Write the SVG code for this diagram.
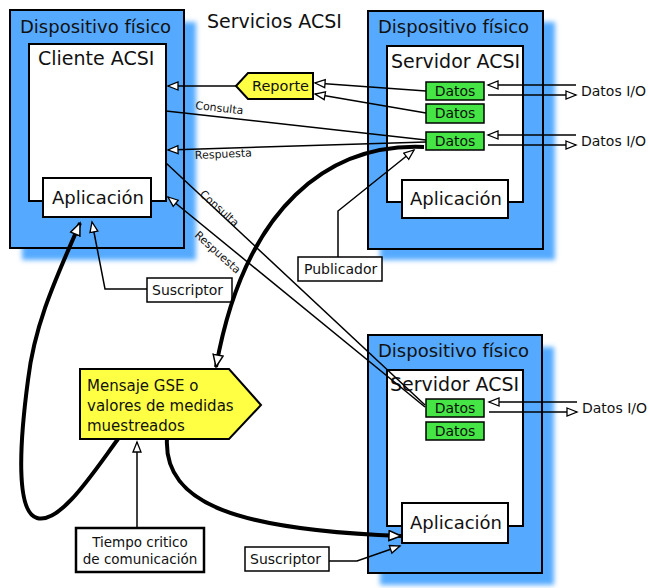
<svg xmlns="http://www.w3.org/2000/svg" width="650" height="588" viewBox="0 0 650 588">
  <style>
    text { font-family: "DejaVu Sans", Verdana, sans-serif; fill: #111; }
    .dev { fill: #55AAFF; stroke: #000; stroke-width: 2; }
    .shadow { fill: #55AAFF; filter: url(#blur); }
    .inner { fill: #fff; stroke: #000; stroke-width: 2; }
    .app { fill: #fff; stroke: #000; stroke-width: 2; }
    .datos { fill: #44E544; stroke: #000; stroke-width: 1.5; }
    .label { fill: #fff; stroke: #000; stroke-width: 1.5; }
    .t18 { font-size: 18px; }
    .t19 { font-size: 19px; }
    .t14 { font-size: 14px; }
    .t15 { font-size: 15px; }
    .t13 { font-size: 13.5px; }
    .t11 { font-size: 11px; }
    .conn { fill: none; stroke: #000; stroke-width: 1.5; }
    .thick { fill: none; stroke: #000; stroke-width: 4; }
  </style>
  <defs>
    <filter id="blur" x="-10%" y="-10%" width="120%" height="120%">
      <feGaussianBlur stdDeviation="2.5"/>
    </filter>
    <marker id="open" markerUnits="userSpaceOnUse" markerWidth="14" markerHeight="12" refX="11" refY="5" orient="auto">
      <path d="M1,1 L11,5 L1,9 z" fill="#fff" stroke="#000" stroke-width="1.3"/>
    </marker>
    <marker id="openBig" markerUnits="userSpaceOnUse" markerWidth="16" markerHeight="14" refX="13" refY="6" orient="auto">
      <path d="M1,1 L13,6 L1,11 z" fill="#fff" stroke="#000" stroke-width="1.5"/>
    </marker>
  </defs>

  <!-- Left physical device: ACSI client -->
  <g id="dev-client">
    <rect class="shadow" x="22" y="22" width="174" height="238"/>
    <rect class="dev" x="10" y="10" width="174" height="238"/>
    <text class="t18" x="20" y="33">Dispositivo físico</text>
    <rect class="inner" x="29" y="44" width="137" height="157"/>
    <text class="t19" x="38" y="65">Cliente ACSI</text>
  </g>
  <g id="app-client">
    <rect class="app" x="43" y="178" width="108" height="39"/>
    <text class="t18" x="52" y="204">Aplicación</text>
  </g>

  <text id="title" class="t19" x="207" y="28">Servicios ACSI</text>

  <!-- Top right physical device: ACSI server -->
  <g id="dev-server1">
    <rect class="shadow" x="380" y="22" width="175" height="238"/>
    <rect class="dev" x="368" y="11" width="175" height="238"/>
    <text class="t18" x="378" y="33">Dispositivo físico</text>
    <rect class="inner" x="387" y="46" width="136" height="156"/>
    <text class="t19" x="391" y="68">Servidor ACSI</text>
  </g>
  <g id="datos-s1-a">
    <rect class="datos" x="426" y="82" width="58" height="18"/>
    <text class="t14" x="455" y="96" text-anchor="middle">Datos</text>
  </g>
  <g id="datos-s1-b">
    <rect class="datos" x="426" y="104" width="58" height="19"/>
    <text class="t14" x="455" y="118" text-anchor="middle">Datos</text>
  </g>
  <g id="datos-s1-c">
    <rect class="datos" x="426" y="132" width="58" height="18"/>
    <text class="t14" x="455" y="146" text-anchor="middle">Datos</text>
  </g>
  <g id="app-server1">
    <rect class="app" x="402" y="180" width="106" height="38"/>
    <text class="t18" x="410" y="205">Aplicación</text>
  </g>

  <!-- Bottom right physical device: ACSI server -->
  <g id="dev-server2">
    <rect class="shadow" x="380" y="347" width="174" height="238"/>
    <rect class="dev" x="368" y="335" width="174" height="238"/>
    <text class="t18" x="378" y="357">Dispositivo físico</text>
    <rect class="inner" x="387" y="370" width="136" height="156"/>
    <text class="t19" x="390" y="391">Servidor ACSI</text>
  </g>
  <g id="datos-s2-a">
    <rect class="datos" x="426" y="399" width="58" height="18"/>
    <text class="t14" x="455" y="413" text-anchor="middle">Datos</text>
  </g>
  <g id="datos-s2-b">
    <rect class="datos" x="426" y="422" width="58" height="18"/>
    <text class="t14" x="455" y="436" text-anchor="middle">Datos</text>
  </g>
  <g id="app-server2">
    <rect class="app" x="402" y="503" width="106" height="40"/>
    <text class="t18" x="410" y="529">Aplicación</text>
  </g>

  <!-- Report tag -->
  <g id="reporte">
    <polygon points="236,86 248,73 313,73 313,99 248,99" fill="#FFFF44" stroke="#000" stroke-width="2"/>
    <text class="t14" x="252" y="91" style="font-size:14.5px">Reporte</text>
  </g>

  <!-- GSE / sampled values message -->
  <g id="gse">
    <polygon points="80,369 229,369 261,405 229,439 80,439" fill="#FFFF44" stroke="#000" stroke-width="2"/>
    <text class="t15" x="87" y="391">Mensaje GSE o</text>
    <text class="t15" x="87" y="411">valores de medidas</text>
    <text class="t15" x="87" y="431">muestreados</text>
  </g>

  <g id="publicador">
    <rect class="label" x="298" y="257" width="84" height="24"/>
    <text class="t14" x="304" y="274">Publicador</text>
  </g>
  <g id="suscriptor-1">
    <rect class="label" x="147" y="278" width="85" height="24"/>
    <text class="t14" x="152" y="295">Suscriptor</text>
  </g>
  <g id="suscriptor-2">
    <rect class="label" x="245" y="547" width="84" height="24"/>
    <text class="t14" x="250" y="564">Suscriptor</text>
  </g>
  <g id="tiempo">
    <rect x="76" y="528" width="128" height="44" fill="#fff" stroke="#000" stroke-width="2.5"/>
    <text class="t13" x="140" y="547" text-anchor="middle">Tiempo critico</text>
    <text class="t13" x="140" y="564" text-anchor="middle">de comunicación</text>
  </g>

  <!-- I/O labels -->
  <g id="io-labels">
    <text class="t14" x="581" y="96">Datos I/O</text>
    <text class="t14" x="581" y="146">Datos I/O</text>
    <text class="t14" x="582" y="413">Datos I/O</text>
  </g>

  <!-- Connectors -->
  <g id="connectors">
    <line class="conn" x1="236" y1="86" x2="168" y2="86" marker-end="url(#open)"/>
    <line class="conn" x1="426" y1="91" x2="315" y2="83" marker-end="url(#open)"/>
    <line class="conn" x1="426" y1="113" x2="315" y2="94" marker-end="url(#open)"/>
    <line class="conn" x1="166" y1="111" x2="426" y2="140"/>
    <line class="conn" x1="426" y1="142" x2="168" y2="150" marker-end="url(#open)"/>
    <line class="conn" x1="166" y1="163" x2="425" y2="405"/>
    <line class="conn" x1="425" y1="407" x2="168" y2="197" marker-end="url(#open)"/>

    <line class="conn" x1="576" y1="85" x2="488" y2="85" marker-end="url(#open)"/>
    <line class="conn" x1="488" y1="95" x2="576" y2="95" marker-end="url(#open)"/>
    <line class="conn" x1="576" y1="135" x2="488" y2="135" marker-end="url(#open)"/>
    <line class="conn" x1="488" y1="145" x2="576" y2="145" marker-end="url(#open)"/>
    <line class="conn" x1="577" y1="402" x2="489" y2="402" marker-end="url(#open)"/>
    <line class="conn" x1="489" y1="412" x2="577" y2="412" marker-end="url(#open)"/>

    <polyline class="conn" points="338,257 338,211 414,150" marker-end="url(#open)"/>
    <polyline class="conn" points="147,289 105,289 92,222" marker-end="url(#open)"/>
    <polyline class="conn" points="329,561 357,561 400,546" marker-end="url(#open)"/>
    <line class="conn" x1="137" y1="528" x2="137" y2="442" marker-end="url(#open)"/>

    <path class="thick" d="M424,147 C330,143 245,205 216,367" marker-end="url(#openBig)"/>
    <path class="thick" d="M118,439 C95,470 60,525 37,518 C15,512 20,440 28,380 C35,320 60,270 80,223" marker-end="url(#openBig)"/>
    <path class="thick" d="M167,438 C163,505 240,530 401,536" marker-end="url(#openBig)"/>

    <text class="t11" transform="translate(195,109) rotate(6.4)">Consulta</text>
    <text class="t11" transform="translate(195,159) rotate(-2.5)">Respuesta</text>
    <text class="t11" transform="translate(199,195) rotate(42)">Consulta</text>
    <text class="t11" transform="translate(194,236) rotate(42)">Respuesta</text>
  </g>
</svg>
